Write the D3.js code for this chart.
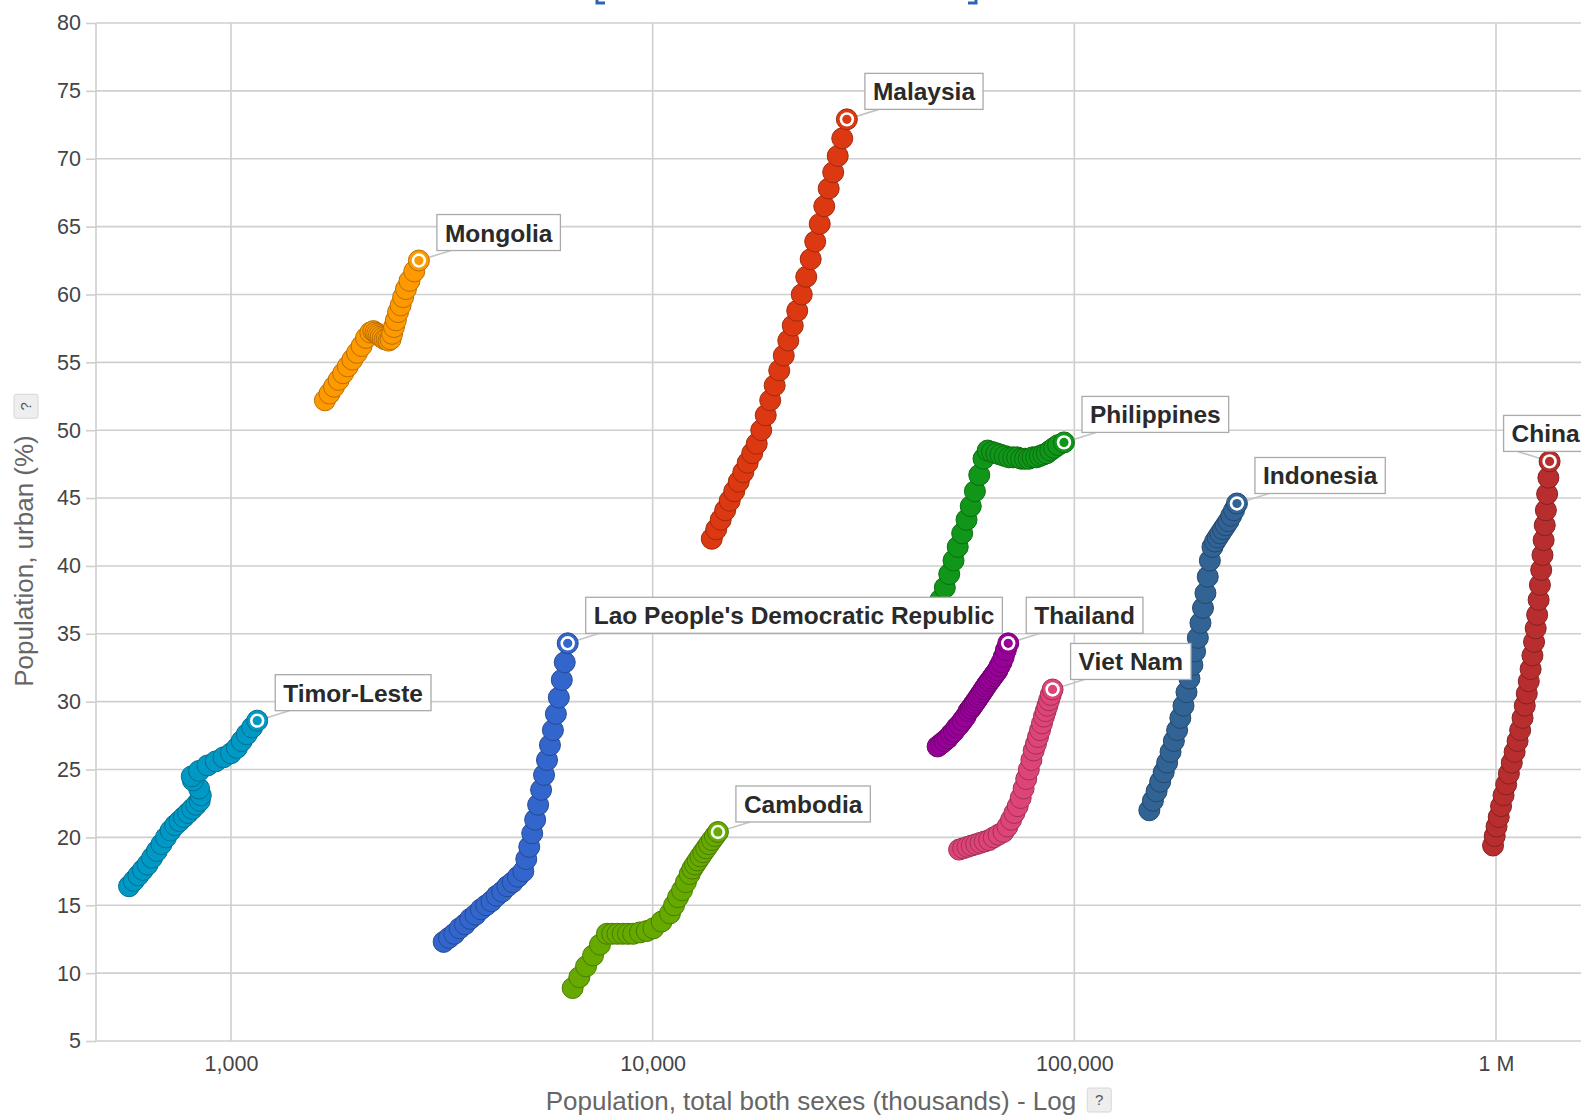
<!DOCTYPE html>
<html lang="en">
  <head>
    <meta charset="UTF-8" />
    <title>Urban population vs total population</title>
    <style>
      html, body { margin: 0; padding: 0; background: #fff; overflow: hidden; }
      svg { display: block; font-family: "Liberation Sans", Arial, sans-serif; }
    </style>
  </head>
  <body>
    <div id="chart"></div>

    <script src="https://d3js.org/d3.v7.min.js"></script>

    <script>
      // yearly trails 1980..2010, population in thousands, urban in %
      const cambodiaPop = [6460, 6700, 6950, 7220, 7500, 7790, 8020, 8250, 8490, 8740, 8990, 9330, 9680, 10040, 10500, 10990, 11240, 11490, 11740, 11990, 12240, 12420, 12600, 12790, 12980, 13180, 13390, 13600, 13820, 14050, 14280];
      const cambodiaUrban = [8.9, 9.7, 10.5, 11.3, 12.1, 12.9, 12.9, 12.9, 12.9, 12.9, 12.9, 13.0, 13.1, 13.3, 13.8, 14.4, 15.0, 15.6, 16.1, 16.7, 17.3, 17.7, 18.0, 18.3, 18.6, 18.9, 19.2, 19.5, 19.8, 20.1, 20.4];

      const chinaPop = [984000, 993000, 1003000, 1015000, 1028000, 1042000, 1057000, 1073000, 1090000, 1107000, 1125000, 1141000, 1156000, 1170000, 1183000, 1196000, 1208000, 1220000, 1231000, 1242000, 1252000, 1262000, 1271000, 1280000, 1289000, 1297000, 1305000, 1313000, 1322000, 1331000, 1340000];
      const chinaUrban = [19.4, 20.1, 20.8, 21.5, 22.3, 23.1, 23.9, 24.7, 25.5, 26.3, 27.1, 27.9, 28.8, 29.7, 30.6, 31.5, 32.4, 33.4, 34.4, 35.4, 36.4, 37.5, 38.6, 39.7, 40.8, 41.9, 43.0, 44.1, 45.3, 46.5, 47.7];

      const indonesiaPop = [150600, 153600, 156700, 159800, 162900, 166000, 169100, 172200, 175300, 178400, 181500, 184500, 187500, 190500, 193400, 196300, 199100, 201900, 204600, 207200, 209600, 212600, 215600, 218700, 221900, 225200, 228600, 232000, 235500, 239200, 243000];
      const indonesiaUrban = [22.0, 22.7, 23.4, 24.1, 24.8, 25.5, 26.3, 27.1, 27.9, 28.8, 29.7, 30.7, 31.7, 32.7, 33.7, 34.7, 35.8, 36.9, 38.0, 39.2, 40.4, 41.4, 41.8, 42.1, 42.4, 42.7, 43.0, 43.3, 43.7, 44.1, 44.6];

      const laoPop = [3194, 3288, 3385, 3484, 3587, 3692, 3801, 3913, 4028, 4146, 4268, 4394, 4523, 4656, 4793, 4935, 5015, 5097, 5180, 5264, 5350, 5437, 5526, 5616, 5707, 5800, 5895, 5991, 6088, 6187, 6288];
      const laoUrban = [12.3, 12.6, 12.9, 13.3, 13.6, 14.0, 14.3, 14.7, 15.0, 15.3, 15.7, 16.0, 16.4, 16.7, 17.1, 17.5, 18.4, 19.3, 20.3, 21.3, 22.4, 23.5, 24.6, 25.7, 26.8, 27.9, 29.1, 30.3, 31.6, 32.9, 34.3];

      const malaysiaPop = [13810, 14150, 14500, 14860, 15230, 15610, 16000, 16400, 16800, 17220, 17650, 18090, 18540, 19000, 19470, 19960, 20460, 20970, 21490, 22020, 22570, 23130, 23700, 24290, 24900, 25520, 26150, 26800, 27470, 28160, 28880];
      const malaysiaUrban = [42.0, 42.7, 43.4, 44.1, 44.8, 45.5, 46.2, 46.9, 47.6, 48.3, 49.0, 50.0, 51.1, 52.2, 53.3, 54.4, 55.5, 56.6, 57.7, 58.8, 60.0, 61.3, 62.6, 63.9, 65.2, 66.5, 67.8, 69.0, 70.2, 71.5, 72.9];

      const mongoliaPop = [1670, 1712, 1755, 1800, 1845, 1892, 1940, 1990, 2040, 2090, 2140, 2175, 2200, 2222, 2244, 2266, 2290, 2315, 2340, 2365, 2390, 2410, 2435, 2460, 2490, 2525, 2560, 2600, 2650, 2720, 2790];
      const mongoliaUrban = [52.2, 52.7, 53.2, 53.7, 54.2, 54.7, 55.2, 55.7, 56.2, 56.8, 57.2, 57.3, 57.2, 57.1, 57.0, 56.9, 56.8, 56.7, 56.7, 56.6, 56.7, 57.1, 57.6, 58.1, 58.7, 59.2, 59.8, 60.4, 61.0, 61.7, 62.5];

      const philippinesPop = [48100, 49300, 50500, 51700, 52900, 54200, 55500, 56800, 58100, 59500, 60900, 62300, 63800, 65300, 66800, 68400, 70000, 71600, 73200, 74800, 76400, 78000, 79600, 81200, 82800, 84400, 86000, 87700, 89500, 91500, 94500];
      const philippinesUrban = [37.5, 38.4, 39.4, 40.4, 41.4, 42.4, 43.4, 44.4, 45.5, 46.7, 47.9, 48.5, 48.4, 48.3, 48.2, 48.1, 48.0, 48.0, 48.0, 47.9, 47.9, 47.9, 48.0, 48.0, 48.1, 48.2, 48.3, 48.5, 48.7, 48.9, 49.1];

      const thailandPop = [47400, 48300, 49200, 50100, 51000, 51800, 52600, 53400, 54300, 55200, 56100, 56800, 57400, 58000, 58600, 59200, 59800, 60400, 61000, 61600, 62200, 62900, 63600, 64300, 65000, 65700, 66400, 67200, 68000, 68800, 69700];
      const thailandUrban = [26.7, 26.9, 27.1, 27.3, 27.6, 27.8, 28.1, 28.3, 28.6, 28.9, 29.3, 29.5, 29.7, 29.9, 30.1, 30.3, 30.5, 30.7, 30.9, 31.1, 31.3, 31.5, 31.7, 31.9, 32.1, 32.3, 32.6, 32.9, 33.3, 33.8, 34.3];

      const timorPop = [573, 588, 603, 618, 634, 650, 667, 684, 701, 719, 737, 755, 773, 791, 809, 827, 843, 848, 840, 812, 807, 840, 880, 920, 960, 1000, 1033, 1060, 1090, 1122, 1154];
      const timorUrban = [16.4, 16.8, 17.2, 17.6, 18.0, 18.5, 19.0, 19.5, 20.0, 20.5, 20.9, 21.2, 21.5, 21.8, 22.1, 22.4, 22.7, 23.1, 23.6, 24.2, 24.5, 24.9, 25.3, 25.6, 25.9, 26.2, 26.6, 27.1, 27.6, 28.1, 28.6];

      const vietnamPop = [53300, 54500, 55800, 57100, 58500, 59900, 61300, 62800, 64400, 66100, 67900, 69400, 70800, 72100, 73400, 74600, 75800, 76900, 78000, 79100, 80100, 81100, 82000, 82900, 83800, 84700, 85500, 86300, 87100, 87900, 88800];
      const vietnamUrban = [19.1, 19.2, 19.3, 19.4, 19.5, 19.6, 19.7, 19.8, 20.0, 20.2, 20.4, 20.8, 21.3, 21.8, 22.3, 22.9, 23.6, 24.3, 25.0, 25.7, 26.4, 26.9, 27.4, 27.9, 28.4, 28.9, 29.3, 29.7, 30.1, 30.5, 30.9];

      const countries = ["Cambodia", "China", "Indonesia", "Lao People's Democratic Republic", "Malaysia", "Mongolia", "Philippines", "Thailand", "Timor-Leste", "Viet Nam"];
      const popSeries = [cambodiaPop, chinaPop, indonesiaPop, laoPop, malaysiaPop, mongoliaPop, philippinesPop, thailandPop, timorPop, vietnamPop];
      const urbanSeries = [cambodiaUrban, chinaUrban, indonesiaUrban, laoUrban, malaysiaUrban, mongoliaUrban, philippinesUrban, thailandUrban, timorUrban, vietnamUrban];

      const yTicks = [5, 10, 15, 20, 25, 30, 35, 40, 45, 50, 55, 60, 65, 70, 75, 80];
      const xTicks = [1000, 10000, 100000, 1000000];
      const xTickLabels = ["1,000", "10,000", "100,000", "1 M"];

      const colors = {
        "Cambodia": "#66aa00",
        "China": "#b82e2e",
        "Indonesia": "#316395",
        "Lao People's Democratic Republic": "#3366cc",
        "Malaysia": "#dc3912",
        "Mongolia": "#ff9900",
        "Philippines": "#109618",
        "Thailand": "#990099",
        "Timor-Leste": "#0099c6",
        "Viet Nam": "#dd4477"
      };

      const width = 1581;
      const height = 1116;
      const plotLeft = 96, plotTop = 23, plotBottom = 1041;
      const radius = 10.5;
      const gridColor = "#cfcfcf";

      const x = d3.scaleLog().domain([1000, 1000000]).range([231, 1496]);
      const y = d3.scaleLinear().domain([5, 80]).range([plotBottom, plotTop]);

      const svg = d3.select("#chart").append("svg")
          .attr("width", width)
          .attr("height", height)
          .attr("viewBox", [0, 0, width, height]);

      // grid
      svg.append("g")
        .selectAll("line")
        .data(yTicks)
        .join("line")
          .attr("x1", plotLeft).attr("x2", width)
          .attr("y1", d => y(d)).attr("y2", d => y(d))
          .attr("stroke", gridColor).attr("stroke-width", 1.6);

      svg.append("g")
        .selectAll("line")
        .data(xTicks)
        .join("line")
          .attr("x1", d => x(d)).attr("x2", d => x(d))
          .attr("y1", plotTop).attr("y2", plotBottom)
          .attr("stroke", gridColor).attr("stroke-width", 1.6);

      svg.append("line")
          .attr("x1", plotLeft).attr("x2", plotLeft)
          .attr("y1", plotTop).attr("y2", plotBottom)
          .attr("stroke", gridColor).attr("stroke-width", 1.6);

      // axes
      const yAxis = d3.axisLeft(y).tickValues(yTicks).tickSize(10).tickPadding(5);
      svg.append("g")
          .attr("transform", `translate(${plotLeft},0)`)
          .call(yAxis)
          .call(g => g.select(".domain").remove())
          .call(g => g.selectAll(".tick line").attr("stroke", gridColor).attr("stroke-width", 1.6))
          .call(g => g.selectAll(".tick text")
              .attr("fill", "#444")
              .attr("font-size", 21.5)
              .attr("font-family", "Liberation Sans, Arial, sans-serif"));

      const xAxis = d3.axisBottom(x).tickValues(xTicks).tickSize(0)
          .tickFormat((d, i) => xTickLabels[i]);
      svg.append("g")
          .attr("transform", `translate(0,${plotBottom})`)
          .call(xAxis)
          .call(g => g.select(".domain").remove())
          .call(g => g.selectAll(".tick text")
              .attr("y", 30).attr("dy", 0)
              .attr("fill", "#444")
              .attr("font-size", 21.5)
              .attr("font-family", "Liberation Sans, Arial, sans-serif"));

      // axis titles
      const yTitle = svg.append("text")
          .attr("transform", "translate(33,561) rotate(-90)")
          .attr("text-anchor", "middle")
          .attr("fill", "#666")
          .attr("font-size", 26)
          .text("Population, urban (%)");

      const xTitle = svg.append("text")
          .attr("x", 811).attr("y", 1110)
          .attr("text-anchor", "middle")
          .attr("fill", "#666")
          .attr("font-size", 26)
          .text("Population, total both sexes (thousands) - Log");

      function helpBox(cx, cy, rotate) {
        const g = svg.append("g").attr("transform", `translate(${cx},${cy}) rotate(${rotate})`);
        g.append("rect")
            .attr("x", -12).attr("y", -12).attr("width", 24).attr("height", 24)
            .attr("rx", 2)
            .attr("fill", "#eeeeee").attr("stroke", "#d6d6d6");
        g.append("text")
            .attr("text-anchor", "middle").attr("dy", "0.36em")
            .attr("font-size", 15).attr("fill", "#555")
            .text("?");
      }
      const xtLen = xTitle.node().getComputedTextLength();
      helpBox(811 + xtLen / 2 + 23, 1100, 0);
      const ytLen = yTitle.node().getComputedTextLength();
      helpBox(26, 561 - ytLen / 2 - 29, -90);

      // cut-off title marks at the very top
      svg.append("path")
          .attr("d", "M597,0V3H605 M976,0V3H968")
          .attr("fill", "none").attr("stroke", "#2f64b5").attr("stroke-width", 3);

      // trails
      const data = countries.map((name, i) => ({
        name,
        color: colors[name],
        points: popSeries[i].map((p, j) => ({ pop: p, urban: urbanSeries[i][j] }))
      }));

      const labelGeom = data.map(d => {
        const last = d.points[d.points.length - 1];
        return { d, px: x(last.pop), py: y(last.urban) };
      });

      const lineLayer = svg.append("g");

      const trails = svg.append("g");
      data.forEach(d => {
        const c = d3.color(d.color);
        trails.append("g")
          .selectAll("circle")
          .data(d.points)
          .join("circle")
            .attr("cx", p => x(p.pop))
            .attr("cy", p => y(p.urban))
            .attr("r", radius)
            .attr("fill", d.color)
            .attr("stroke", c.darker(0.9))
            .attr("stroke-width", 1);
      });

      // current year marker
      const marks = svg.append("g");
      labelGeom.forEach(({ d, px, py }) => {
        marks.append("circle").attr("cx", px).attr("cy", py).attr("r", 7.2).attr("fill", "#fff");
        marks.append("circle").attr("cx", px).attr("cy", py).attr("r", 4.6).attr("fill", d.color);
      });

      // labels
      const labels = svg.append("g");
      labelGeom.forEach(({ d, px, py }) => {
        const g = labels.append("g");
        const t = g.append("text")
            .attr("font-size", 24.5)
            .attr("font-weight", "bold")
            .attr("fill", "#2a2a2a")
            .text(d.name);
        const w = t.node().getComputedTextLength() + 16;
        let left = px + 18;
        if (left + w > width) left = px - 46;
        const bottom = py - 10;
        const top = bottom - 36;
        lineLayer.append("line")
            .attr("x1", px).attr("y1", py)
            .attr("x2", left + 14).attr("y2", bottom)
            .attr("stroke", "#c4c4c4").attr("stroke-width", 1.6);
        g.insert("rect", "text")
            .attr("x", left).attr("y", top)
            .attr("width", w).attr("height", 36)
            .attr("fill", "#fff")
            .attr("stroke", "#aaa").attr("stroke-width", 1.3);
        t.attr("x", left + 8).attr("y", top + 27);
      });
    </script>
  </body>
</html>
